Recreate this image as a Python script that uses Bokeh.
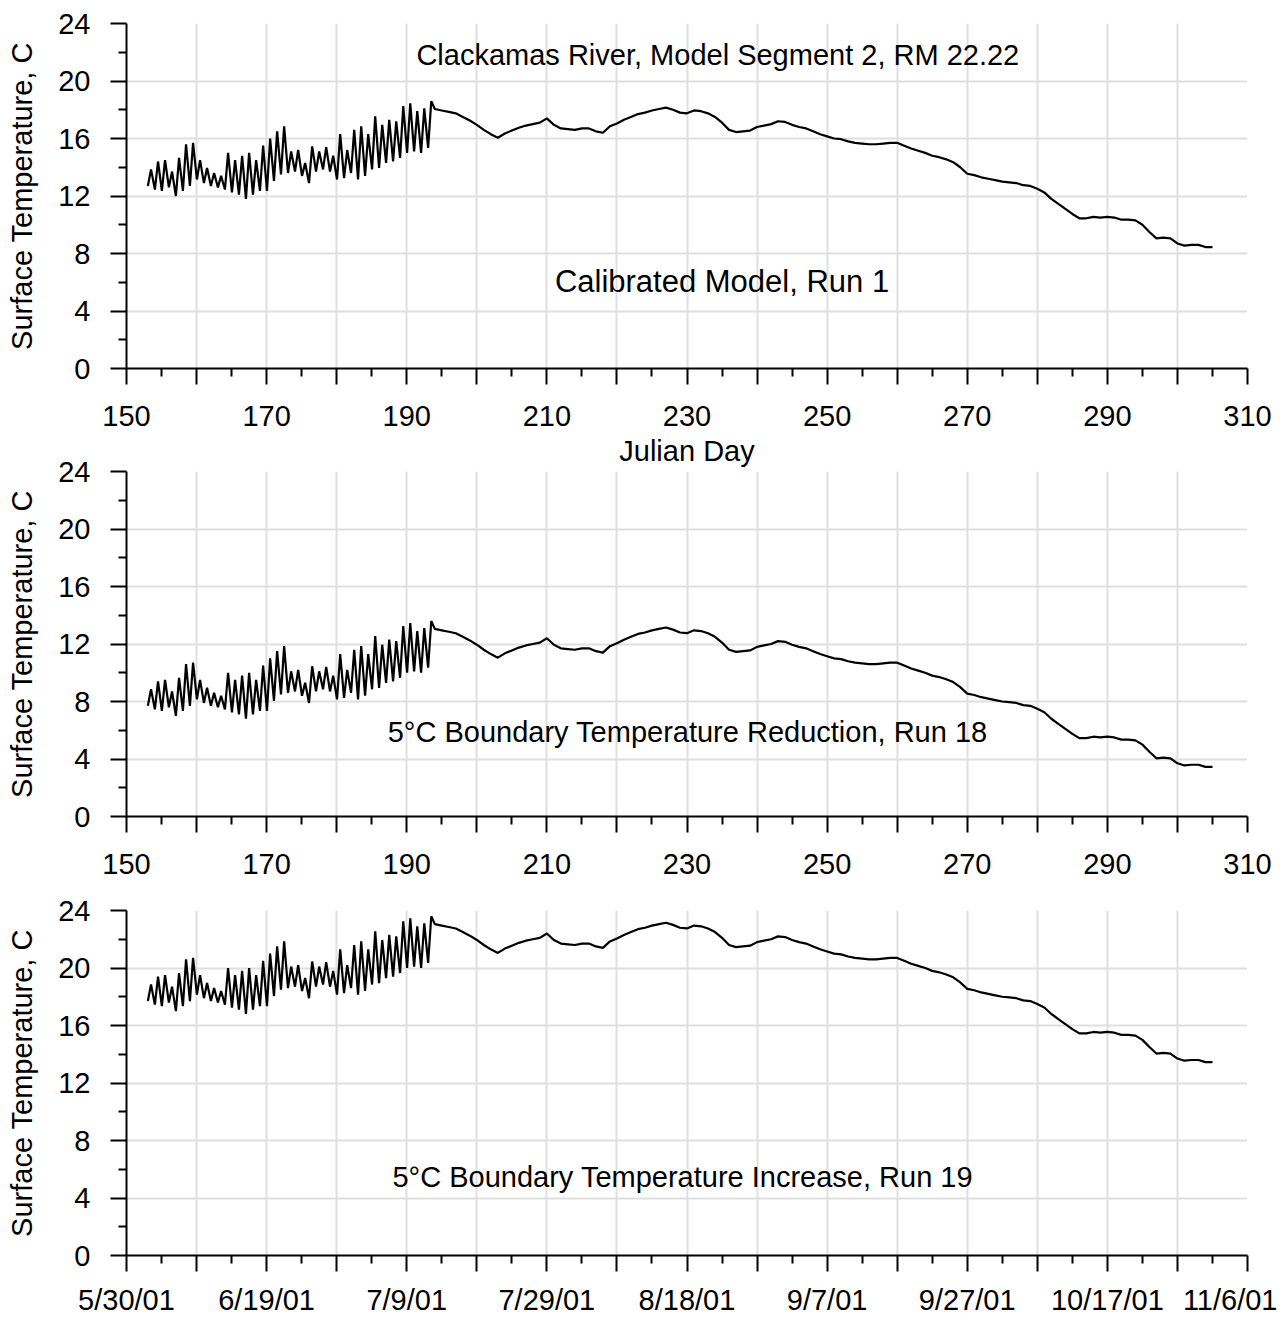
from bokeh.plotting import figure
from bokeh.models import Range1d, FixedTicker, Label
from bokeh.layouts import column
from bokeh.embed import file_html
from bokeh.resources import INLINE

# ---------------- data ----------------
# Days 153-193: strong diurnal swing -> daily minimum and maximum
OSC_DAYS = list(range(153, 194))
OSC_MIN = [12.7, 12.45, 12.35, 12.6, 12.0, 12.35, 12.7, 13.15, 12.9, 12.7,
           12.6, 12.45, 12.25, 12.1, 11.8, 12.1, 12.35, 12.35, 13.05, 13.5,
           13.6, 13.7, 13.4, 12.9, 13.7, 13.85, 13.7, 13.15, 13.25, 13.6,
           13.15, 13.4, 13.85, 13.95, 14.3, 14.4, 14.65, 15.0, 15.1, 15.0,
           15.35]
OSC_MAX = [13.85, 14.4, 14.5, 13.7, 14.65, 15.6, 15.7, 14.5, 13.95, 13.6,
           13.4, 15.0, 14.5, 14.8, 15.0, 14.5, 15.5, 16.0, 16.5, 16.85,
           15.1, 15.2, 14.3, 15.45, 15.1, 15.4, 14.8, 16.3, 15.2, 16.6,
           16.85, 16.3, 17.55, 16.95, 17.3, 17.2, 18.25, 18.45, 17.9, 18.1,
           18.6]
# Days 194-305: daily temperature (calibrated run)
SMOOTH_DAYS = list(range(194, 306))
SMOOTH_T = [18.05, 17.95, 17.85, 17.75, 17.5, 17.25, 16.95, 16.6, 16.3, 16.05,
            16.35, 16.55, 16.75, 16.9, 17.0, 17.1, 17.4, 16.95, 16.7, 16.65,
            16.6, 16.7, 16.7, 16.5, 16.4, 16.85, 17.05, 17.3, 17.5, 17.7,
            17.8, 17.95, 18.05, 18.15, 18.0, 17.8, 17.75, 17.95, 17.9, 17.75,
            17.5, 17.1, 16.6, 16.45, 16.5, 16.55, 16.8, 16.9, 17.0, 17.2,
            17.15, 16.95, 16.8, 16.7, 16.5, 16.3, 16.15, 16.0, 15.95, 15.8,
            15.7, 15.65, 15.6, 15.6, 15.65, 15.7, 15.7, 15.5, 15.3, 15.15,
            15.0, 14.8, 14.7, 14.55, 14.35, 14.0, 13.55, 13.45, 13.3, 13.2,
            13.1, 13.0, 12.95, 12.9, 12.75, 12.7, 12.5, 12.25, 11.8, 11.45,
            11.1, 10.75, 10.45, 10.45, 10.55, 10.5, 10.55, 10.5, 10.35, 10.35,
            10.3, 10.0, 9.5, 9.05, 9.1, 9.05, 8.7, 8.55, 8.6, 8.6,
            8.45, 8.45]
# Boundary temperature change of each run (deg C)
PANEL_OFFSETS = [0.0, -5.0, 5.0]
PANEL_NOTES = ["Calibrated Model, Run 1",
               "5\u00b0C Boundary Temperature Reduction, Run 18",
               "5\u00b0C Boundary Temperature Increase, Run 19"]
TITLE = "Clackamas River, Model Segment 2, RM 22.22"

X_TICKS = [150, 160, 170, 180, 190, 200, 210, 220, 230, 240, 250, 260, 270, 280, 290, 300, 310]
X_MINOR = [155, 165, 175, 185, 195, 205, 215, 225, 235, 245, 255, 265, 275, 285, 295, 305]
X_LABELED = [150, 170, 190, 210, 230, 250, 270, 290, 310]
DATE_LABELS = ["5/30/01", "6/19/01", "7/9/01", "7/29/01", "8/18/01",
               "9/7/01", "9/27/01", "10/17/01", "11/6/01"]
Y_TICKS = [0, 4, 8, 12, 16, 20, 24]
Y_MINOR = [2, 6, 10, 14, 18, 22]

# ---------------- styling ----------------
FONT = "Liberation Sans"
FS = "29px"
GRID = "#dfdfdf"
TOPS = [23, 15, 15]
BOTTOMS = [114, 79, 55]
MARGINS = [(0, 0, 0, 0), (-26, 0, 0, 0), (0, 0, 0, 0)]
XSTANDOFF = [21, 21, 12]
NOTE_POS = [(235.0, 6.05), (230.1, 5.85), (229.4, 5.43)]
NOTE_FS = ["31px", "29px", "29px"]


def make_panel(i):
    off = PANEL_OFFSETS[i]
    xs, ys = [], []
    for d, lo, hi in zip(OSC_DAYS, OSC_MIN, OSC_MAX):
        xs += [d + 0.05, d + 0.5]
        ys += [lo + off, hi + off]
    for d, t in zip(SMOOTH_DAYS, SMOOTH_T):
        xs.append(d)
        ys.append(t + off)

    p = figure(frame_width=1121, frame_height=345,
               x_range=Range1d(150, 310), y_range=Range1d(0, 24),
               output_backend="svg", toolbar_location=None,
               min_border_left=126, min_border_right=30,
               min_border_top=TOPS[i], min_border_bottom=BOTTOMS[i],
               margin=MARGINS[i], border_fill_color=None,
               outline_line_color=None)

    p.line(xs, ys, line_color="black", line_width=2.2)

    p.xaxis.ticker = FixedTicker(ticks=X_TICKS, minor_ticks=X_MINOR)
    p.yaxis.ticker = FixedTicker(ticks=Y_TICKS, minor_ticks=Y_MINOR)
    p.xgrid.ticker = FixedTicker(ticks=X_TICKS)
    p.ygrid.ticker = FixedTicker(ticks=Y_TICKS)
    for g in (p.xgrid, p.ygrid):
        g.grid_line_color = GRID
        g.grid_line_width = 2

    over = {t: "" for t in X_TICKS}
    if i == 2:
        for t, lab in zip(X_LABELED, DATE_LABELS):
            over[t] = lab
    else:
        for t in X_LABELED:
            over[t] = str(t)
    p.xaxis.major_label_overrides = over

    for ax in (p.xaxis[0], p.yaxis[0]):
        ax.axis_line_color = "black"
        ax.axis_line_width = 2
        ax.major_tick_line_color = "black"
        ax.major_tick_line_width = 2
        ax.minor_tick_line_color = "black"
        ax.minor_tick_line_width = 2
        ax.major_tick_in = 0
        ax.major_tick_out = 16
        ax.minor_tick_in = 0
        ax.minor_tick_out = 8
        ax.major_label_text_font = FONT
        ax.major_label_text_font_size = FS
        ax.major_label_text_color = "black"
        ax.axis_label_text_font = FONT
        ax.axis_label_text_font_size = FS
        ax.axis_label_text_font_style = "normal"
        ax.axis_label_text_color = "black"

    p.xaxis.major_label_standoff = XSTANDOFF[i]
    p.yaxis.major_label_standoff = 20
    p.yaxis.axis_label = "Surface Temperature, C"
    p.yaxis.axis_label_standoff = 17
    if i == 0:
        p.xaxis.axis_label = "Julian Day"
        p.xaxis.axis_label_standoff = 6
        p.add_layout(Label(x=234.4, y=21.8, text=TITLE, text_font=FONT,
                           text_font_size=FS, text_align="center",
                           text_baseline="middle", text_color="black"))
    nx, ny = NOTE_POS[i]
    p.add_layout(Label(x=nx, y=ny, text=PANEL_NOTES[i], text_font=FONT,
                       text_font_size=NOTE_FS[i], text_align="center",
                       text_baseline="middle", text_color="black"))
    return p


layout = column(*[make_panel(i) for i in range(3)], spacing=0)
open("out.html", "w").write(file_html(layout, INLINE))
